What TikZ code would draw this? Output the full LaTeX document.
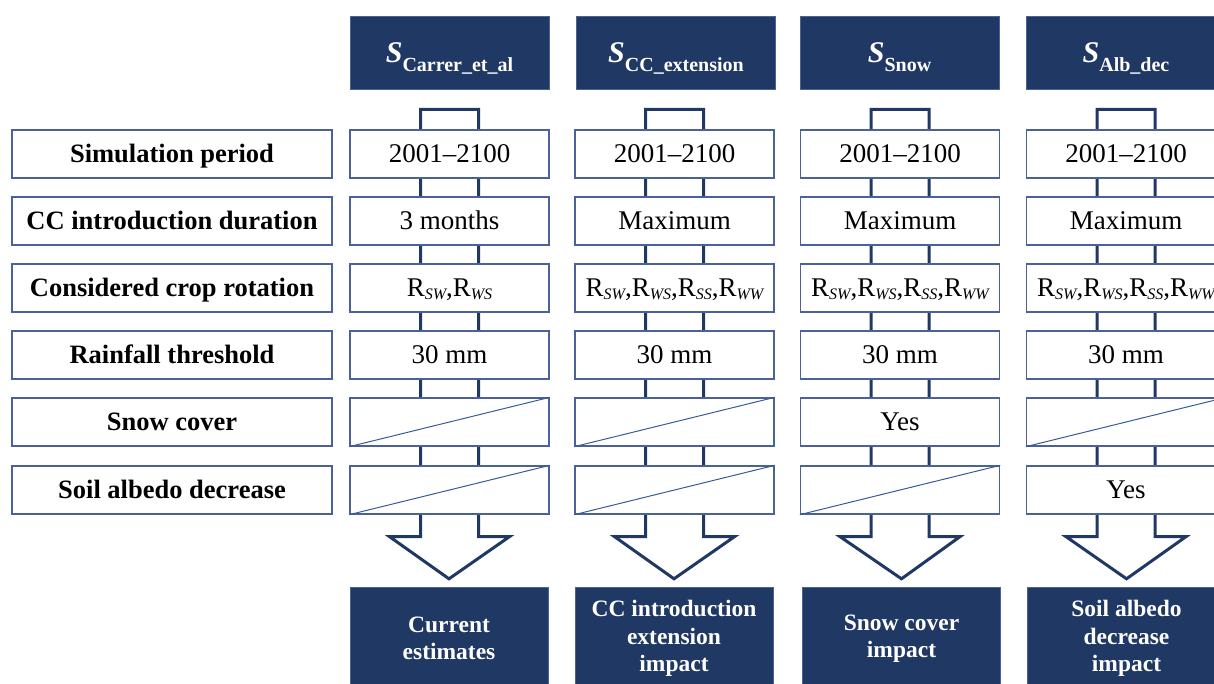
\documentclass[tikz,border=0pt]{standalone}
\usepackage{fontspec}
\setmainfont{Liberation Serif}
\usepackage{tikz}
\usetikzlibrary{calc,backgrounds}
\definecolor{navy}{HTML}{203864}
\definecolor{edge}{HTML}{4A6199}
\definecolor{slash}{HTML}{3A5A9C}
\newcommand{\rsub}[1]{R\raisebox{-2.5pt}{\fontsize{16}{16}\selectfont\itshape #1}}
\newcommand{\shead}[1]{\fontsize{30}{30}\selectfont\bfseries\itshape S\raisebox{-9pt}{\fontsize{20}{20}\selectfont\upshape #1}}

\begin{document}
\begin{tikzpicture}[x = 1pt, y = -1pt,
                        label/.style = {draw = edge, line width = 1.3pt, fill = white, minimum width = 320pt, minimum height = 48pt, inner sep = 0pt, text height = 17.5pt, text depth = 0pt, font = \fontsize{26.5}{30}\selectfont\bfseries},
                        cell/.style = {draw = edge, line width = 1.3pt, fill = white, minimum width = 199pt, minimum height = 48pt, inner sep = 0pt, text height = 17.8pt, text depth = 0pt, font = \fontsize{27}{30}\selectfont},
                        head/.style = {draw = edge, fill = navy, text = white, minimum width = 199pt, minimum height = 73pt, inner sep = 0pt, text depth = 0pt},
                        result/.style = {draw = edge, fill = navy, text = white, minimum width = 198pt, minimum height = 103pt, inner sep = 0pt, align = center, font = \fontsize{23.5}{27.5}\selectfont\bfseries},
                        flow/.style = {draw = navy, line width = 3pt, fill = white, line join = miter},
                        slash/.style = {draw = slash, line width = 1pt}]
    \useasboundingbox (0, 0) rectangle (1214, 684);
    % parameters
    \node [label] (p1) at (172, 154){Simulation period};
    \node [label] (p2) at (172, 221){CC introduction duration};
    \node [label] (p3) at (172, 288){Considered crop rotation};
    \node [label] (p4) at (172, 355){Rainfall threshold};
    \node [label] (p5) at (172, 422){Snow cover};
    \node [label] (p6) at (172, 490){Soil albedo decrease};
    % scenarios
    \node [head] (ha) at (449.5, 52.5){\shead{Carrer\_et\_al}};
    \node [head] (hb) at (676, 52.5){\shead{CC\_extension}};
    \node [head] (hc) at (899.5, 52.5){\shead{Snow}};
    \node [head] (hd) at (1126, 52.5){\shead{Alb\_dec}};
    % S_Carrer_et_al
    \node [cell] (a1) at (449.5, 154){2001--2100};
    \node [cell] (a2) at (449.5, 221){3 months};
    \node [cell] (a3) at (449.5, 288){\rsub{SW},\rsub{WS}};
    \node [cell] (a4) at (449.5, 355){30 mm};
    \node [cell] (a5) at (449.5, 422){};
    \node [cell] (a6) at (449.5, 490){};
    % S_CC_extension
    \node [cell] (b1) at (674.5, 154){2001--2100};
    \node [cell] (b2) at (674.5, 221){Maximum};
    \node [cell] (b3) at (674.5, 288){\rsub{SW},\rsub{WS},\rsub{SS},\rsub{WW}};
    \node [cell] (b4) at (674.5, 355){30 mm};
    \node [cell] (b5) at (674.5, 422){};
    \node [cell] (b6) at (674.5, 490){};
    % S_Snow
    \node [cell] (c1) at (900, 154){2001--2100};
    \node [cell] (c2) at (900, 221){Maximum};
    \node [cell] (c3) at (900, 288){\rsub{SW},\rsub{WS},\rsub{SS},\rsub{WW}};
    \node [cell] (c4) at (900, 355){30 mm};
    \node [cell] (c5) at (900, 422){Yes};
    \node [cell] (c6) at (900, 490){};
    % S_Alb_dec
    \node [cell] (d1) at (1126, 154){2001--2100};
    \node [cell] (d2) at (1126, 221){Maximum};
    \node [cell] (d3) at (1126, 288){\rsub{SW},\rsub{WS},\rsub{SS},\rsub{WW}};
    \node [cell] (d4) at (1126, 355){30 mm};
    \node [cell] (d5) at (1126, 422){};
    \node [cell] (d6) at (1126, 490){Yes};
    % not considered
    \draw [slash] (a5.south west) -- (a5.north east);
    \draw [slash] (a6.south west) -- (a6.north east);
    \draw [slash] (b5.south west) -- (b5.north east);
    \draw [slash] (b6.south west) -- (b6.north east);
    \draw [slash] (c6.south west) -- (c6.north east);
    \draw [slash] (d5.south west) -- (d5.north east);
    % outcomes
    \node [result] (ra) at (449, 638.5){Current\\estimates};
    \node [result] (rb) at (674, 638.5){CC introduction\\extension\\impact};
    \node [result] (rc) at (901.5, 638.5){Snow cover\\impact};
    \node [result] (rd) at (1126.5, 638.5){Soil albedo\\decrease\\impact};
    \begin{scope}[on background layer]
    \foreach \s in {a, b, c, d}
      \draw [flow] ($(\s6.south)+(-29, 22)$) -- ($(\s1.north)+(-29, -20)$) -- ($(\s1.north)+(29, -20)$)
        -- ($(\s6.south)+(29, 22)$) -- ($(\s6.south)+(60, 22)$) -- ($(r\s.north)+(0, -8)$)
        -- ($(\s6.south)+(-60, 22)$) -- cycle;
    \end{scope}
  \end{tikzpicture}
\end{document}
